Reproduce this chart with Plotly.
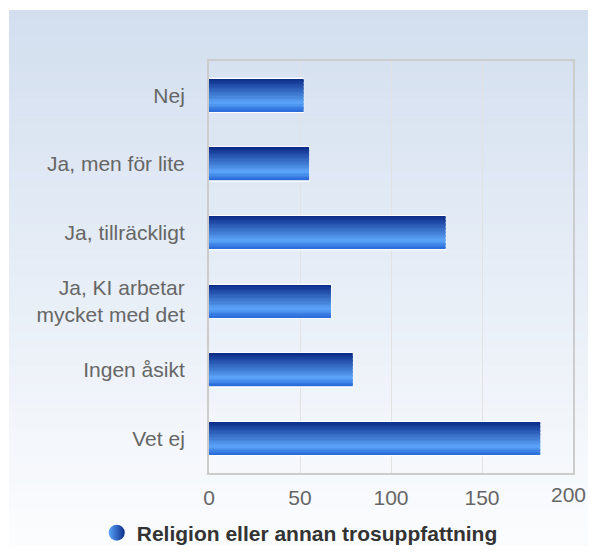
import plotly.graph_objects as go

categories = ["Nej", "Ja, men för lite", "Ja, tillräckligt",
              "Ja, KI arbetar<br>mycket med det", "Ingen åsikt", "Vet ej"]
values = [52, 55, 130, 67, 79, 182]
series_name = "Religion eller annan trosuppfattning"
x_ticks = [0, 50, 100, 150, 200]
x_tick_text = ["0", "50", "100", "150", "200"]

# page body has an 8px margin, so the figure is sized to fit inside it
W, H = 580, 538
L, R, T, B = 201, 15, 53, 73
pw, ph = W - L - R, H - T - B


def lerp(c1, c2, t):
    return tuple(round(a + (b - a) * t) for a, b in zip(c1, c2))


def rgb(c):
    return "rgb(%d,%d,%d)" % c


fig = go.Figure()

# white outline under each bar
fig.add_trace(go.Bar(
    y=categories, x=values, orientation="h",
    width=0.5, offset=-0.25,
    marker=dict(color="white", line=dict(color="white", width=1)),
    showlegend=False, hoverinfo="skip",
))

# vertical gradient inside the bar, built from thin slices
dark = (10, 42, 135)
light = (92, 165, 250)
bottom = (40, 105, 215)
n = 24
bw = 0.47
for i in range(n):
    t = (i + 0.5) / n
    if t < 0.75:
        c = lerp(dark, light, t / 0.75)
    else:
        c = lerp(light, bottom, (t - 0.75) / 0.25)
    fig.add_trace(go.Bar(
        y=categories, x=values, orientation="h",
        width=bw / n + 0.002, offset=-bw / 2 + i * bw / n,
        marker=dict(color=rgb(c), line=dict(width=0)),
        showlegend=False, hoverinfo="skip",
    ))

# legend entry
fig.add_trace(go.Scatter(
    x=[None], y=[None], mode="markers", name=series_name,
    marker=dict(symbol="circle", size=18, color="#5aa4fa",
                gradient=dict(type="horizontal", color="#0b2d8a"),
                line=dict(width=0)),
))

# background gradient panel
top_c = (211, 223, 239)
bot_c = (251, 252, 254)
x0 = (1 - L) / pw
x1 = (W + 2 - L) / pw
strips = 60
shapes = []
for i in range(strips):
    py0 = 2 + (H - 2) * i / strips
    py1 = 2 + (H - 2) * (i + 1) / strips + 0.5
    c = lerp(top_c, bot_c, i / (strips - 1))
    shapes.append(dict(
        type="rect", xref="paper", yref="paper", layer="below",
        x0=x0, x1=x1, y0=(H - B - py1) / ph, y1=(H - B - py0) / ph,
        fillcolor=rgb(c), line=dict(width=0),
    ))

# the last x label sits at the right edge, draw it as an annotation nudged in
last_label = dict(
    x=x_ticks[-1], xref="x", y=0, yref="paper", yanchor="top",
    text=x_tick_text[-1], showarrow=False, xshift=-5, yshift=-8,
    font=dict(size=21, color="#666666"),
)

fig.update_layout(
    width=W, height=H,
    margin=dict(l=L, r=R, t=T, b=B, autoexpand=False),
    paper_bgcolor="white",
    plot_bgcolor="rgba(0,0,0,0)",
    shapes=shapes,
    annotations=[last_label],
    barmode="overlay",
    font=dict(family="Liberation Sans, Arial, sans-serif", size=21, color="#666666"),
    showlegend=True,
    legend=dict(
        orientation="h", xref="container", yref="container",
        x=0.503, xanchor="center", y=1 - 525 / H, yanchor="middle",
        font=dict(size=21, color="#333333", weight="bold"),
        bgcolor="rgba(0,0,0,0)",
    ),
    xaxis=dict(
        range=[0, 200], tickvals=x_ticks, ticktext=x_tick_text[:-1] + [""],
        showgrid=True, gridcolor="#e2e2e2", gridwidth=1,
        zeroline=False, showline=True, linecolor="#cccccc", linewidth=2, mirror=True,
        ticks="", ticklabelstandoff=5, automargin=False,
    ),
    yaxis=dict(
        autorange="reversed", showgrid=False,
        showline=True, linecolor="#cccccc", linewidth=2, mirror=True,
        ticks="", ticklabelstandoff=18, automargin=False,
    ),
)

fig.write_html("out.html")
